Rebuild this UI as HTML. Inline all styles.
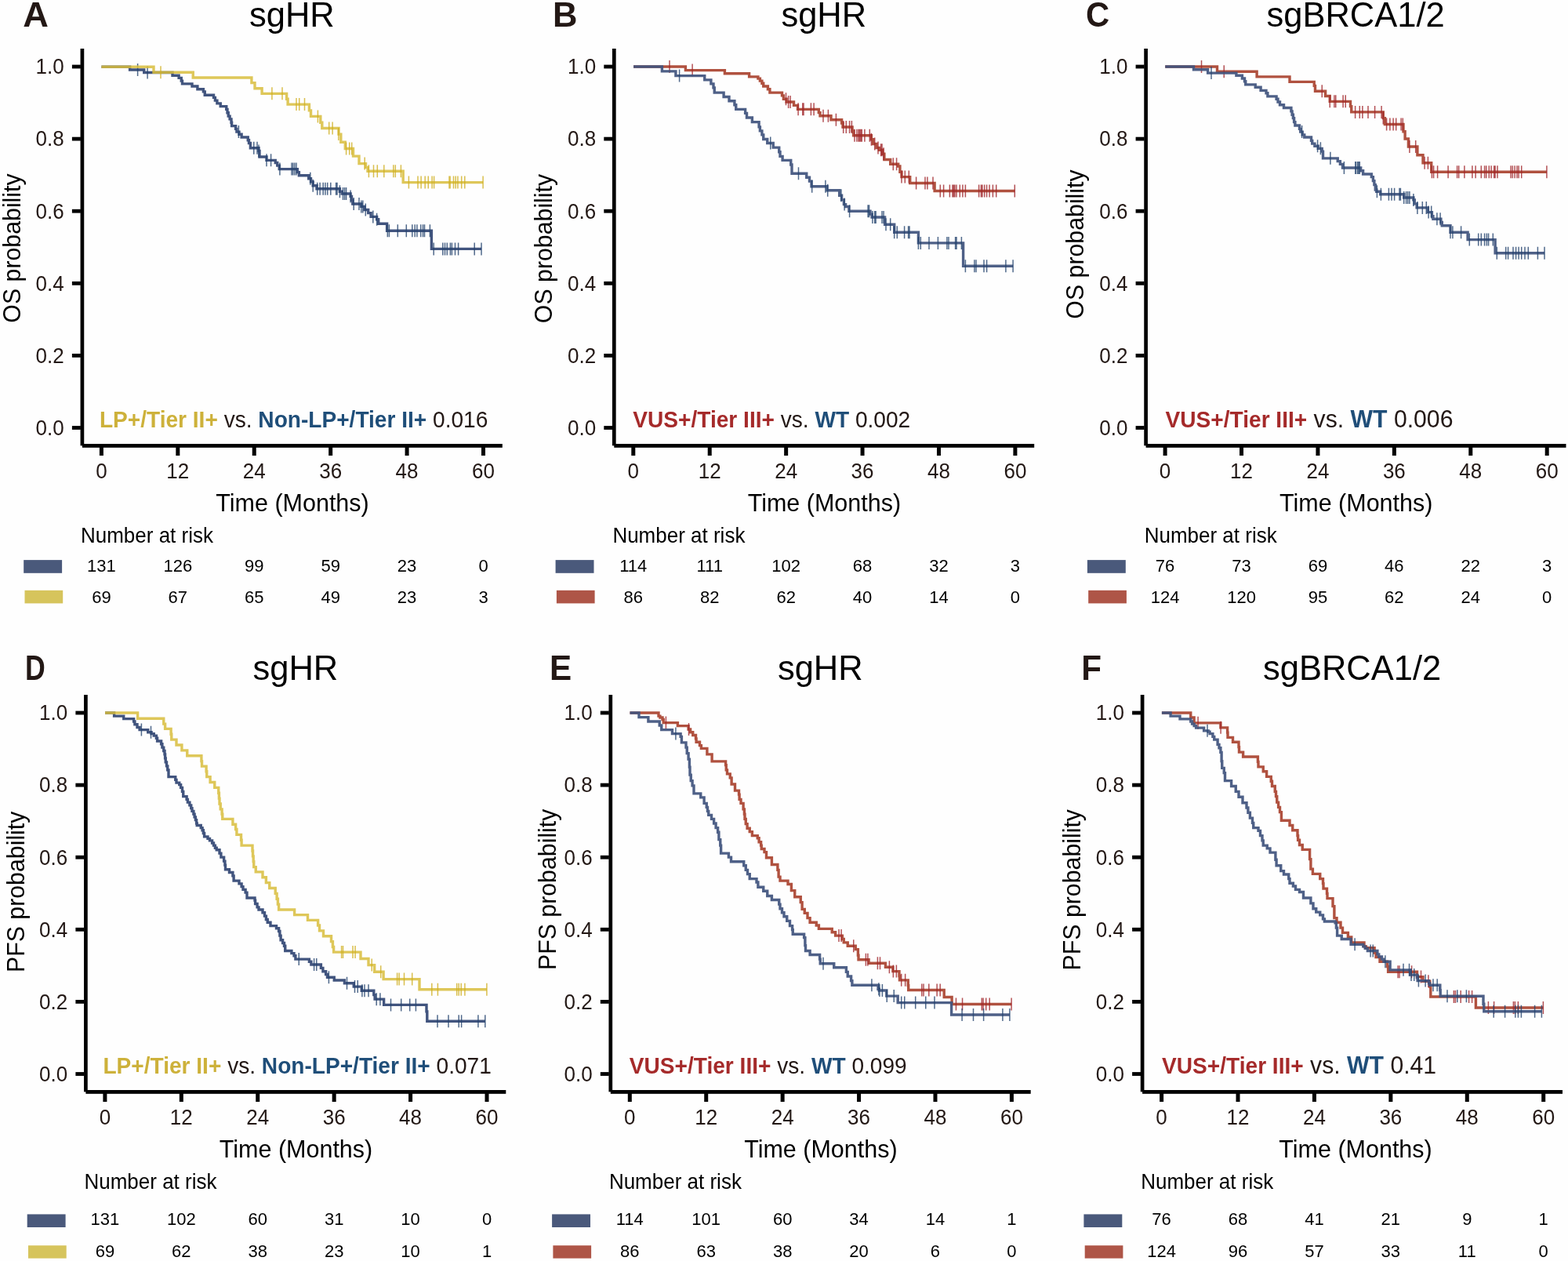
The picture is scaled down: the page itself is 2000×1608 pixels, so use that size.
<!DOCTYPE html>
<html><head><meta charset="utf-8"><title>Kaplan-Meier curves</title>
<style>html,body{margin:0;padding:0;background:#fff;}svg{display:block;}</style></head>
<body><svg width="2000" height="1608" viewBox="0 0 2000 1608" font-family="'Liberation Sans', sans-serif">
<rect width="2000" height="1608" fill="#fefefe"/>
<g>
<rect x="102.55" y="62" width="4.7" height="506.3" fill="#000"/>
<rect x="104.9" y="566" width="535.9" height="4.8" fill="#000"/>
<rect x="91.9" y="82.6" width="11" height="4.8" fill="#000"/>
<text transform="translate(81.7 94.3) scale(1 1.04)" font-size="26" text-anchor="end" fill="#231815">1.0</text>
<rect x="91.9" y="174.7" width="11" height="4.8" fill="#000"/>
<text transform="translate(81.7 186.4) scale(1 1.04)" font-size="26" text-anchor="end" fill="#231815">0.8</text>
<rect x="91.9" y="266.8" width="11" height="4.8" fill="#000"/>
<text transform="translate(81.7 278.5) scale(1 1.04)" font-size="26" text-anchor="end" fill="#231815">0.6</text>
<rect x="91.9" y="358.9" width="11" height="4.8" fill="#000"/>
<text transform="translate(81.7 370.6) scale(1 1.04)" font-size="26" text-anchor="end" fill="#231815">0.4</text>
<rect x="91.9" y="451" width="11" height="4.8" fill="#000"/>
<text transform="translate(81.7 462.7) scale(1 1.04)" font-size="26" text-anchor="end" fill="#231815">0.2</text>
<rect x="91.9" y="543.1" width="11" height="4.8" fill="#000"/>
<text transform="translate(81.7 554.8) scale(1 1.04)" font-size="26" text-anchor="end" fill="#231815">0.0</text>
<rect x="126.9" y="570" width="5" height="11" fill="#000"/>
<text transform="translate(129.4 610) scale(1 1.04)" font-size="26" text-anchor="middle" fill="#231815">0</text>
<rect x="224.32" y="570" width="5" height="11" fill="#000"/>
<text transform="translate(226.82 610) scale(1 1.04)" font-size="26" text-anchor="middle" fill="#231815">12</text>
<rect x="321.74" y="570" width="5" height="11" fill="#000"/>
<text transform="translate(324.24 610) scale(1 1.04)" font-size="26" text-anchor="middle" fill="#231815">24</text>
<rect x="419.16" y="570" width="5" height="11" fill="#000"/>
<text transform="translate(421.66 610) scale(1 1.04)" font-size="26" text-anchor="middle" fill="#231815">36</text>
<rect x="516.58" y="570" width="5" height="11" fill="#000"/>
<text transform="translate(519.08 610) scale(1 1.04)" font-size="26" text-anchor="middle" fill="#231815">48</text>
<rect x="614" y="570" width="5" height="11" fill="#000"/>
<text transform="translate(616.5 610) scale(1 1.04)" font-size="26" text-anchor="middle" fill="#231815">60</text>
<text transform="translate(373 652) scale(1 1.04)" font-size="30.5" text-anchor="middle" fill="#000">Time (Months)</text>
<text transform="translate(25.5 316.5) rotate(-90) scale(1 1.04)" font-size="30.3" text-anchor="middle" fill="#000">OS probability</text>
<text transform="translate(372.4 33.6) scale(1 1.04)" font-size="43.5" text-anchor="middle" fill="#000">sgHR</text>
<text transform="translate(29.3 33.6) scale(1.04 1.04)" font-size="43.5" font-weight="bold" fill="#231815">A</text>
<text transform="translate(126.9 544.8) scale(1 1.04)" font-size="28.1"><tspan fill="#CDB13A" font-weight="bold">LP+/Tier&#160;II+</tspan><tspan fill="#231815">&#160;vs.&#160;</tspan><tspan fill="#1F4E79" font-weight="bold">Non-LP+/Tier&#160;II+</tspan><tspan fill="#231815">&#160;0.016</tspan></text>
<text transform="translate(103 692) scale(1 1.04)" font-size="26" fill="#000">Number at risk</text>
<text transform="translate(129.4 728.5) scale(1 1.04)" font-size="22" text-anchor="middle" fill="#000">131</text>
<text transform="translate(129.4 769.2) scale(1 1.04)" font-size="22" text-anchor="middle" fill="#000">69</text>
<text transform="translate(226.82 728.5) scale(1 1.04)" font-size="22" text-anchor="middle" fill="#000">126</text>
<text transform="translate(226.82 769.2) scale(1 1.04)" font-size="22" text-anchor="middle" fill="#000">67</text>
<text transform="translate(324.24 728.5) scale(1 1.04)" font-size="22" text-anchor="middle" fill="#000">99</text>
<text transform="translate(324.24 769.2) scale(1 1.04)" font-size="22" text-anchor="middle" fill="#000">65</text>
<text transform="translate(421.66 728.5) scale(1 1.04)" font-size="22" text-anchor="middle" fill="#000">59</text>
<text transform="translate(421.66 769.2) scale(1 1.04)" font-size="22" text-anchor="middle" fill="#000">49</text>
<text transform="translate(519.08 728.5) scale(1 1.04)" font-size="22" text-anchor="middle" fill="#000">23</text>
<text transform="translate(519.08 769.2) scale(1 1.04)" font-size="22" text-anchor="middle" fill="#000">23</text>
<text transform="translate(616.5 728.5) scale(1 1.04)" font-size="22" text-anchor="middle" fill="#000">0</text>
<text transform="translate(616.5 769.2) scale(1 1.04)" font-size="22" text-anchor="middle" fill="#000">3</text>
<rect x="30.2" y="714.1" width="48.9" height="16.7" fill="#4A597B"/>
<rect x="31.5" y="752.8" width="48.7" height="16.6" fill="#D6C45C"/>
<path d="M129.4 85.25H165.6V89H183.75V92.5H220V96.2H228.1V99.35H231.25V103.1H232.5V106.85H245V110H251.9V113.7H259.4V116.85H261.25V121.2H272.5V124.35H274.4V128.1H276.9V131.85H281.25V135.6H288.75V139.35H290V143.7H291.25V148.1H293.1V151.85H295V156.2H295.6V160.6H300.6V164.35H301.9V168.1H305V171.2H308.1V175H316.25V178.7H317.5V182.5H319.4V188.7H330V192.5H331V200H340V204.35H351.25V207.5H353.75V211.1H356.25V215.6H379.4V219.6H381.4V223.7H393.7V227.8H396.5V231.9H399.2V236.7H404V240.8H433.4V244.2H436.2V247H447.1V250.4H448.5V255.2H449.8V260H460.8V263.4H464.9V267.5H469.7V271.6H473.1V276.4H480.6V279.8H482.7V285.3H493.6V294.2H550.4V317.4H614" fill="none" stroke="#41547E" stroke-width="3.4" stroke-opacity="1.0"/>
<path d="M175.6 81v16M188.1 84.5v16M304.4 160.1v16M323.75 180.7v16M328 180.7v16M330 184.5v16M340 196.35v16M345.6 196.35v16M356.9 207.6v16M372 207.6v16M373.75 207.6v16M375.9 207.6v16M378 207.6v16M395.8 219.8v16M399.2 228.7v16M404.7 232.8v16M408.1 232.8v16M412.2 232.8v16M414.9 232.8v16M417.7 232.8v16M421.8 232.8v16M428.6 232.8v16M430 232.8v16M433.4 236.2v16M437.5 239v16M439.6 239v16M441.6 239v16M447.1 242.4v16M451.2 252v16M458 252v16M460.8 255.4v16M462.8 255.4v16M466.3 259.5v16M475.8 268.4v16M480.6 271.8v16M494.3 286.2v16M496.4 286.2v16M507.3 286.2v16M518.3 286.2v16M525.8 286.2v16M529.2 286.2v16M531.9 286.2v16M536.7 286.2v16M539.5 286.2v16M541.5 286.2v16M548.4 286.2v16M553.2 309.4v16M564.8 309.4v16M567.5 309.4v16M570.3 309.4v16M574.4 309.4v16M576.4 309.4v16M580.5 309.4v16M584.6 309.4v16M605.2 309.4v16M614 309.4v16" fill="none" stroke="#24436E" stroke-width="1.5" stroke-opacity="0.8"/>
<path d="M129.4 85.25H196V92.2H246.25V99H320.9V105.6H325V112.7H334.1V119.35H365.6V126.2H367.1V133.1H394.4V140.9H396.5V148.4H408.8V156.2H410.8V163.5H432V171.1H434.8V181.3H440.3V189.5H450.5V199.1H458V208.6H466.5V213.4H469V218.2H514.2V232.6H616.1" fill="none" stroke="#D8BD3C" stroke-width="3.4" stroke-opacity="0.85"/>
<path d="M205 84.2v16M346.9 111.35v16M360 111.35v16M378 125.1v16M381.7 125.1v16M388.5 125.1v16M405.4 140.4v16M419.7 155.5v16M424.1 155.5v16M431.8 163.1v16M441.6 181.5v16M445.7 181.5v16M448.7 181.5v16M465.2 200.6v16M470.4 210.2v16M476.5 210.2v16M481.3 210.2v16M489.8 210.2v16M501.8 210.2v16M504.3 210.2v16M511.4 210.2v16M521.4 224.6v16M533 224.6v16M537.1 224.6v16M542.2 224.6v16M546.3 224.6v16M551.1 224.6v16M553.6 224.6v16M573 224.6v16M574.1 224.6v16M578.5 224.6v16M581.2 224.6v16M583.9 224.6v16M588.7 224.6v16M592.8 224.6v16M616.1 224.6v16" fill="none" stroke="#CFAF22" stroke-width="1.5" stroke-opacity="0.8"/>
</g>
<g>
<rect x="780.95" y="62" width="4.7" height="506.3" fill="#000"/>
<rect x="783.3" y="566" width="535.9" height="4.8" fill="#000"/>
<rect x="770.3" y="82.6" width="11" height="4.8" fill="#000"/>
<text transform="translate(760.1 94.3) scale(1 1.04)" font-size="26" text-anchor="end" fill="#231815">1.0</text>
<rect x="770.3" y="174.7" width="11" height="4.8" fill="#000"/>
<text transform="translate(760.1 186.4) scale(1 1.04)" font-size="26" text-anchor="end" fill="#231815">0.8</text>
<rect x="770.3" y="266.8" width="11" height="4.8" fill="#000"/>
<text transform="translate(760.1 278.5) scale(1 1.04)" font-size="26" text-anchor="end" fill="#231815">0.6</text>
<rect x="770.3" y="358.9" width="11" height="4.8" fill="#000"/>
<text transform="translate(760.1 370.6) scale(1 1.04)" font-size="26" text-anchor="end" fill="#231815">0.4</text>
<rect x="770.3" y="451" width="11" height="4.8" fill="#000"/>
<text transform="translate(760.1 462.7) scale(1 1.04)" font-size="26" text-anchor="end" fill="#231815">0.2</text>
<rect x="770.3" y="543.1" width="11" height="4.8" fill="#000"/>
<text transform="translate(760.1 554.8) scale(1 1.04)" font-size="26" text-anchor="end" fill="#231815">0.0</text>
<rect x="805.3" y="570" width="5" height="11" fill="#000"/>
<text transform="translate(807.8 610) scale(1 1.04)" font-size="26" text-anchor="middle" fill="#231815">0</text>
<rect x="902.72" y="570" width="5" height="11" fill="#000"/>
<text transform="translate(905.22 610) scale(1 1.04)" font-size="26" text-anchor="middle" fill="#231815">12</text>
<rect x="1000.14" y="570" width="5" height="11" fill="#000"/>
<text transform="translate(1002.64 610) scale(1 1.04)" font-size="26" text-anchor="middle" fill="#231815">24</text>
<rect x="1097.56" y="570" width="5" height="11" fill="#000"/>
<text transform="translate(1100.06 610) scale(1 1.04)" font-size="26" text-anchor="middle" fill="#231815">36</text>
<rect x="1194.98" y="570" width="5" height="11" fill="#000"/>
<text transform="translate(1197.48 610) scale(1 1.04)" font-size="26" text-anchor="middle" fill="#231815">48</text>
<rect x="1292.4" y="570" width="5" height="11" fill="#000"/>
<text transform="translate(1294.9 610) scale(1 1.04)" font-size="26" text-anchor="middle" fill="#231815">60</text>
<text transform="translate(1051.4 652) scale(1 1.04)" font-size="30.5" text-anchor="middle" fill="#000">Time (Months)</text>
<text transform="translate(703.5 317) rotate(-90) scale(1 1.04)" font-size="30.3" text-anchor="middle" fill="#000">OS probability</text>
<text transform="translate(1050.8 33.6) scale(1 1.04)" font-size="43.5" text-anchor="middle" fill="#000">sgHR</text>
<text transform="translate(705 33.6) scale(1 1.04)" font-size="43.5" font-weight="bold" fill="#231815">B</text>
<text transform="translate(807.3 544.8) scale(1 1.04)" font-size="28.1"><tspan fill="#A52A2A" font-weight="bold">VUS+/Tier&#160;III+</tspan><tspan fill="#231815">&#160;vs.&#160;</tspan><tspan fill="#1F4E79" font-weight="bold">WT</tspan><tspan fill="#231815">&#160;0.002</tspan></text>
<text transform="translate(781.4 692) scale(1 1.04)" font-size="26" fill="#000">Number at risk</text>
<text transform="translate(807.8 728.5) scale(1 1.04)" font-size="22" text-anchor="middle" fill="#000">114</text>
<text transform="translate(807.8 769.2) scale(1 1.04)" font-size="22" text-anchor="middle" fill="#000">86</text>
<text transform="translate(905.22 728.5) scale(1 1.04)" font-size="22" text-anchor="middle" fill="#000">111</text>
<text transform="translate(905.22 769.2) scale(1 1.04)" font-size="22" text-anchor="middle" fill="#000">82</text>
<text transform="translate(1002.64 728.5) scale(1 1.04)" font-size="22" text-anchor="middle" fill="#000">102</text>
<text transform="translate(1002.64 769.2) scale(1 1.04)" font-size="22" text-anchor="middle" fill="#000">62</text>
<text transform="translate(1100.06 728.5) scale(1 1.04)" font-size="22" text-anchor="middle" fill="#000">68</text>
<text transform="translate(1100.06 769.2) scale(1 1.04)" font-size="22" text-anchor="middle" fill="#000">40</text>
<text transform="translate(1197.48 728.5) scale(1 1.04)" font-size="22" text-anchor="middle" fill="#000">32</text>
<text transform="translate(1197.48 769.2) scale(1 1.04)" font-size="22" text-anchor="middle" fill="#000">14</text>
<text transform="translate(1294.9 728.5) scale(1 1.04)" font-size="22" text-anchor="middle" fill="#000">3</text>
<text transform="translate(1294.9 769.2) scale(1 1.04)" font-size="22" text-anchor="middle" fill="#000">0</text>
<rect x="708.6" y="714.1" width="48.9" height="16.7" fill="#4A597B"/>
<rect x="709.9" y="752.8" width="48.7" height="16.6" fill="#AE5547"/>
<path d="M808.1 85H874.4V89.6H924.4V93.7H955.6V97.85H966.9V100.1H969.4V103.1H971.9V106.2H973.75V110H979.4V113.7H981.9V118.1H997.5V121.85H999.4V126.2H1003.1V130H1012.5V134.35H1017.5V139.35H1044.3V143.6H1046V147.7H1060V152.7H1073.6V157H1075V162H1087.1V167H1088.6V172.7H1111.4V177.7H1113.6V183.5H1117.9V188.5H1121.4V191.3H1125.7V196.3H1127.9V203.5H1135.7V209.2H1145.7V212H1147.9V219.2H1150V225.6H1160.7V233.5H1192.1V243.5H1294.3" fill="none" stroke="#B0513F" stroke-width="3.4" stroke-opacity="1.0"/>
<path d="M854 77v16M883.1 81.6v16M1002.5 118.2v16M1005.6 122v16M1008.1 122v16M1018.1 131.35v16M1023.75 131.35v16M1025 131.35v16M1034.4 131.35v16M1038.1 131.35v16M1050 139.7v16M1056.4 139.7v16M1066.4 144.7v16M1075.7 154v16M1079.3 154v16M1083.6 154v16M1086.4 154v16M1090 164.7v16M1092.9 164.7v16M1095 164.7v16M1096.4 164.7v16M1097.9 164.7v16M1099.3 164.7v16M1102.9 164.7v16M1109.3 164.7v16M1111.4 169.7v16M1115.7 175.5v16M1120 180.5v16M1123.6 183.3v16M1125 183.3v16M1127.1 188.3v16M1139.3 201.2v16M1143.6 201.2v16M1150 217.6v16M1154.3 217.6v16M1159.3 217.6v16M1168.6 225.5v16M1180 225.5v16M1182.9 225.5v16M1190 225.5v16M1199.3 235.5v16M1203.6 235.5v16M1211.4 235.5v16M1215 235.5v16M1216.4 235.5v16M1217.9 235.5v16M1220 235.5v16M1224.3 235.5v16M1227.9 235.5v16M1231.4 235.5v16M1248.6 235.5v16M1251.4 235.5v16M1252.9 235.5v16M1255.7 235.5v16M1258.6 235.5v16M1262.1 235.5v16M1266.4 235.5v16M1270.7 235.5v16M1294.3 235.5v16" fill="none" stroke="#A0262A" stroke-width="1.5" stroke-opacity="0.8"/>
<path d="M808.1 85H844.4V90.85H861.9V96.6H898.75V101.85H906.9V106.85H910V111.85H911.25V118.1H923.1V123.5H930V128.7H936.9V133.7H938.75V139.35H950.6V144.35H952.5V150H959.4V155.6H968.1V161.85H969.4V166.85H971.9V171.85H973.75V177.5H978.75V182.5H986.25V188.1H993.75V193.7H995V199.35H998.1V204.35H1008.75V210H1010V221.2H1028.75V226.2H1032.5V231.1H1035V237.7H1055V242.7H1070.7V249.2H1073.6V254.9H1076.4V260.6H1078.6V263.5H1082.9V269.2H1110V273.1H1112.1V277H1128.6V286.3H1140.7V296.3H1171.4V309.9H1228.6V339.2H1292.1" fill="none" stroke="#41547E" stroke-width="3.4" stroke-opacity="0.93"/>
<path d="M866.6 88.6v16M982.75 174.5v16M1018.5 213.2v16M1035.7 229.7v16M1052.9 229.7v16M1055.7 234.7v16M1072.9 241.2v16M1077.1 252.6v16M1083.6 261.2v16M1107.1 261.2v16M1108.6 261.2v16M1112.9 269v16M1115.7 269v16M1117.1 269v16M1125 269v16M1127.1 269v16M1130 278.3v16M1135.7 278.3v16M1140.7 288.3v16M1144.3 288.3v16M1153.6 288.3v16M1158.6 288.3v16M1160 288.3v16M1171.4 301.9v16M1174.3 301.9v16M1185 301.9v16M1196.4 301.9v16M1207.9 301.9v16M1210 301.9v16M1218.6 301.9v16M1220 301.9v16M1226.4 301.9v16M1231.4 331.2v16M1242.9 331.2v16M1245 331.2v16M1255 331.2v16M1258.6 331.2v16M1282.9 331.2v16M1292.1 331.2v16" fill="none" stroke="#24436E" stroke-width="1.5" stroke-opacity="0.8"/>
</g>
<g>
<rect x="1459.25" y="62" width="4.7" height="506.3" fill="#000"/>
<rect x="1461.6" y="566" width="535.9" height="4.8" fill="#000"/>
<rect x="1448.6" y="82.6" width="11" height="4.8" fill="#000"/>
<text transform="translate(1438.4 94.3) scale(1 1.04)" font-size="26" text-anchor="end" fill="#231815">1.0</text>
<rect x="1448.6" y="174.7" width="11" height="4.8" fill="#000"/>
<text transform="translate(1438.4 186.4) scale(1 1.04)" font-size="26" text-anchor="end" fill="#231815">0.8</text>
<rect x="1448.6" y="266.8" width="11" height="4.8" fill="#000"/>
<text transform="translate(1438.4 278.5) scale(1 1.04)" font-size="26" text-anchor="end" fill="#231815">0.6</text>
<rect x="1448.6" y="358.9" width="11" height="4.8" fill="#000"/>
<text transform="translate(1438.4 370.6) scale(1 1.04)" font-size="26" text-anchor="end" fill="#231815">0.4</text>
<rect x="1448.6" y="451" width="11" height="4.8" fill="#000"/>
<text transform="translate(1438.4 462.7) scale(1 1.04)" font-size="26" text-anchor="end" fill="#231815">0.2</text>
<rect x="1448.6" y="543.1" width="11" height="4.8" fill="#000"/>
<text transform="translate(1438.4 554.8) scale(1 1.04)" font-size="26" text-anchor="end" fill="#231815">0.0</text>
<rect x="1483.6" y="570" width="5" height="11" fill="#000"/>
<text transform="translate(1486.1 610) scale(1 1.04)" font-size="26" text-anchor="middle" fill="#231815">0</text>
<rect x="1581.02" y="570" width="5" height="11" fill="#000"/>
<text transform="translate(1583.52 610) scale(1 1.04)" font-size="26" text-anchor="middle" fill="#231815">12</text>
<rect x="1678.44" y="570" width="5" height="11" fill="#000"/>
<text transform="translate(1680.94 610) scale(1 1.04)" font-size="26" text-anchor="middle" fill="#231815">24</text>
<rect x="1775.86" y="570" width="5" height="11" fill="#000"/>
<text transform="translate(1778.36 610) scale(1 1.04)" font-size="26" text-anchor="middle" fill="#231815">36</text>
<rect x="1873.28" y="570" width="5" height="11" fill="#000"/>
<text transform="translate(1875.78 610) scale(1 1.04)" font-size="26" text-anchor="middle" fill="#231815">48</text>
<rect x="1970.7" y="570" width="5" height="11" fill="#000"/>
<text transform="translate(1973.2 610) scale(1 1.04)" font-size="26" text-anchor="middle" fill="#231815">60</text>
<text transform="translate(1729.7 652) scale(1 1.04)" font-size="30.5" text-anchor="middle" fill="#000">Time (Months)</text>
<text transform="translate(1382.1 311.5) rotate(-90) scale(1 1.04)" font-size="30.3" text-anchor="middle" fill="#000">OS probability</text>
<text transform="translate(1729.1 33.6) scale(1 1.04)" font-size="43.5" text-anchor="middle" fill="#000">sgBRCA1/2</text>
<text transform="translate(1385.1 33.6) scale(0.96 1.04)" font-size="43.5" font-weight="bold" fill="#231815">C</text>
<text transform="translate(1486.6 544.8) scale(1 1.04)" font-size="28.1"><tspan fill="#A52A2A" font-weight="bold">VUS+/Tier&#160;III+</tspan><tspan fill="#231815" font-size="30.2">&#160;vs.&#160;</tspan><tspan fill="#1F4E79" font-weight="bold" font-size="30.2">WT</tspan><tspan fill="#231815" font-size="30.2">&#160;0.006</tspan></text>
<text transform="translate(1459.7 692) scale(1 1.04)" font-size="26" fill="#000">Number at risk</text>
<text transform="translate(1486.1 728.5) scale(1 1.04)" font-size="22" text-anchor="middle" fill="#000">76</text>
<text transform="translate(1486.1 769.2) scale(1 1.04)" font-size="22" text-anchor="middle" fill="#000">124</text>
<text transform="translate(1583.52 728.5) scale(1 1.04)" font-size="22" text-anchor="middle" fill="#000">73</text>
<text transform="translate(1583.52 769.2) scale(1 1.04)" font-size="22" text-anchor="middle" fill="#000">120</text>
<text transform="translate(1680.94 728.5) scale(1 1.04)" font-size="22" text-anchor="middle" fill="#000">69</text>
<text transform="translate(1680.94 769.2) scale(1 1.04)" font-size="22" text-anchor="middle" fill="#000">95</text>
<text transform="translate(1778.36 728.5) scale(1 1.04)" font-size="22" text-anchor="middle" fill="#000">46</text>
<text transform="translate(1778.36 769.2) scale(1 1.04)" font-size="22" text-anchor="middle" fill="#000">62</text>
<text transform="translate(1875.78 728.5) scale(1 1.04)" font-size="22" text-anchor="middle" fill="#000">22</text>
<text transform="translate(1875.78 769.2) scale(1 1.04)" font-size="22" text-anchor="middle" fill="#000">24</text>
<text transform="translate(1973.2 728.5) scale(1 1.04)" font-size="22" text-anchor="middle" fill="#000">3</text>
<text transform="translate(1973.2 769.2) scale(1 1.04)" font-size="22" text-anchor="middle" fill="#000">0</text>
<rect x="1386.9" y="714.1" width="48.9" height="16.7" fill="#4A597B"/>
<rect x="1388.2" y="752.8" width="48.7" height="16.6" fill="#AE5547"/>
<path d="M1486.25 85H1552.5V91.2H1603.1V97.85H1645V104.35H1676.25V109.35H1677.5V116.2H1690.6V122.5H1696.25V129.35H1722.5V135.6H1723.75V142.9H1764.3V150.6H1766.4V158.5H1790V167.7H1792.1V177H1796.4V187H1807.9V197.7H1815V207.7H1825.7V219.2H1972.9" fill="none" stroke="#B0513F" stroke-width="3.4" stroke-opacity="1.0"/>
<path d="M1532.5 77v16M1561.25 83.2v16M1686.25 108.2v16M1696.25 121.35v16M1701.9 121.35v16M1703.75 121.35v16M1713.1 121.35v16M1716.25 121.35v16M1728.6 134.9v16M1734.3 134.9v16M1737.9 134.9v16M1745 134.9v16M1753.6 134.9v16M1762.1 134.9v16M1764.3 142.6v16M1768.6 150.5v16M1772.9 150.5v16M1777.1 150.5v16M1780.7 150.5v16M1787.1 150.5v16M1789.3 150.5v16M1797.9 179v16M1805.7 179v16M1817.1 199.7v16M1821.4 199.7v16M1826.4 211.2v16M1828.6 211.2v16M1833.6 211.2v16M1847.1 211.2v16M1858.6 211.2v16M1860.7 211.2v16M1867.9 211.2v16M1877.9 211.2v16M1882.1 211.2v16M1889.3 211.2v16M1893.6 211.2v16M1895.7 211.2v16M1899.3 211.2v16M1902.1 211.2v16M1905.7 211.2v16M1907.1 211.2v16M1910 211.2v16M1927.1 211.2v16M1929.3 211.2v16M1932.1 211.2v16M1935 211.2v16M1937.1 211.2v16M1940.7 211.2v16M1972.9 211.2v16" fill="none" stroke="#A0262A" stroke-width="1.5" stroke-opacity="0.8"/>
<path d="M1486.25 85H1522.5V88.7H1540.6V93.1H1576.9V96.2H1584.4V100H1587.5V103.7H1588.75V107.85H1601.25V111.2H1608.1V115.35H1615V118.7H1616.9V122.85H1628.1V126.2H1630V130H1632.5V133.7H1637.5V137.5H1646.9V141.85H1648.1V146.2H1649.4V150.6H1650.6V155.6H1651.9V160H1657.5V164.35H1658.75V168.1H1661.25V171.85H1663.75V175H1672.5V179.35H1673.75V183.1H1676.9V186.2H1681.25V189.35H1686.25V193.1H1687.5V201.85H1706.25V205.6H1709.4V209.35H1712.5V214H1735.7V217.7H1738.6V222H1749.3V225.6H1751.4V230.6H1752.9V235.6H1754.3V242H1755.7V244.2H1760.7V247.7H1790.7V252H1802.9V254.9H1804.3V259.9H1807.1V264.9H1821.4V270.6H1826.4V275.6H1827.9V279.2H1837.9V283.5H1839.3V287.7H1850V296.3H1872.1V305.6H1907.1V322.7H1970" fill="none" stroke="#41547E" stroke-width="3.4" stroke-opacity="0.93"/>
<path d="M1545 85.1v16M1660.6 160.1v16M1680.6 178.2v16M1684.4 181.35v16M1696.9 193.85v16M1714.4 206v16M1728.75 206v16M1729.3 206v16M1731.4 206v16M1732.9 206v16M1734.3 206v16M1756.4 236.2v16M1761.4 239.7v16M1771.4 239.7v16M1775 239.7v16M1778.6 239.7v16M1785 239.7v16M1786.4 239.7v16M1790.7 244v16M1793.6 244v16M1795.7 244v16M1797.9 244v16M1802.9 246.9v16M1807.9 256.9v16M1814.3 256.9v16M1819.3 256.9v16M1822.1 262.6v16M1825.7 262.6v16M1832.9 271.2v16M1837.1 271.2v16M1850 288.3v16M1852.9 288.3v16M1863.6 288.3v16M1874.3 297.6v16M1885.7 297.6v16M1889.3 297.6v16M1893.6 297.6v16M1896.4 297.6v16M1898.6 297.6v16M1904.3 297.6v16M1909.3 314.7v16M1920.7 314.7v16M1923.6 314.7v16M1930 314.7v16M1933.6 314.7v16M1937.1 314.7v16M1940.7 314.7v16M1945 314.7v16M1949.3 314.7v16M1961.4 314.7v16M1970 314.7v16" fill="none" stroke="#24436E" stroke-width="1.5" stroke-opacity="0.8"/>
</g>
<g>
<rect x="107.05" y="886" width="4.7" height="506.3" fill="#000"/>
<rect x="109.4" y="1390" width="535.9" height="4.8" fill="#000"/>
<rect x="96.4" y="906.6" width="11" height="4.8" fill="#000"/>
<text transform="translate(86.2 918.3) scale(1 1.04)" font-size="26" text-anchor="end" fill="#231815">1.0</text>
<rect x="96.4" y="998.7" width="11" height="4.8" fill="#000"/>
<text transform="translate(86.2 1010.4) scale(1 1.04)" font-size="26" text-anchor="end" fill="#231815">0.8</text>
<rect x="96.4" y="1090.8" width="11" height="4.8" fill="#000"/>
<text transform="translate(86.2 1102.5) scale(1 1.04)" font-size="26" text-anchor="end" fill="#231815">0.6</text>
<rect x="96.4" y="1182.9" width="11" height="4.8" fill="#000"/>
<text transform="translate(86.2 1194.6) scale(1 1.04)" font-size="26" text-anchor="end" fill="#231815">0.4</text>
<rect x="96.4" y="1275" width="11" height="4.8" fill="#000"/>
<text transform="translate(86.2 1286.7) scale(1 1.04)" font-size="26" text-anchor="end" fill="#231815">0.2</text>
<rect x="96.4" y="1367.1" width="11" height="4.8" fill="#000"/>
<text transform="translate(86.2 1378.8) scale(1 1.04)" font-size="26" text-anchor="end" fill="#231815">0.0</text>
<rect x="131.4" y="1394" width="5" height="11" fill="#000"/>
<text transform="translate(133.9 1434) scale(1 1.04)" font-size="26" text-anchor="middle" fill="#231815">0</text>
<rect x="228.82" y="1394" width="5" height="11" fill="#000"/>
<text transform="translate(231.32 1434) scale(1 1.04)" font-size="26" text-anchor="middle" fill="#231815">12</text>
<rect x="326.24" y="1394" width="5" height="11" fill="#000"/>
<text transform="translate(328.74 1434) scale(1 1.04)" font-size="26" text-anchor="middle" fill="#231815">24</text>
<rect x="423.66" y="1394" width="5" height="11" fill="#000"/>
<text transform="translate(426.16 1434) scale(1 1.04)" font-size="26" text-anchor="middle" fill="#231815">36</text>
<rect x="521.08" y="1394" width="5" height="11" fill="#000"/>
<text transform="translate(523.58 1434) scale(1 1.04)" font-size="26" text-anchor="middle" fill="#231815">48</text>
<rect x="618.5" y="1394" width="5" height="11" fill="#000"/>
<text transform="translate(621 1434) scale(1 1.04)" font-size="26" text-anchor="middle" fill="#231815">60</text>
<text transform="translate(377.5 1476) scale(1 1.04)" font-size="30.5" text-anchor="middle" fill="#000">Time (Months)</text>
<text transform="translate(30.7 1137.3) rotate(-90) scale(1 1.04)" font-size="30.3" text-anchor="middle" fill="#000">PFS probability</text>
<text transform="translate(376.9 867.4) scale(1 1.04)" font-size="43.5" text-anchor="middle" fill="#000">sgHR</text>
<text transform="translate(32 867.4) scale(0.82 1.04)" font-size="43.5" font-weight="bold" fill="#231815">D</text>
<text transform="translate(131.4 1368.8) scale(1 1.04)" font-size="28.1"><tspan fill="#CDB13A" font-weight="bold">LP+/Tier&#160;II+</tspan><tspan fill="#231815">&#160;vs.&#160;</tspan><tspan fill="#1F4E79" font-weight="bold">Non-LP+/Tier&#160;II+</tspan><tspan fill="#231815">&#160;0.071</tspan></text>
<text transform="translate(107.5 1516) scale(1 1.04)" font-size="26" fill="#000">Number at risk</text>
<text transform="translate(133.9 1561.8) scale(1 1.04)" font-size="22" text-anchor="middle" fill="#000">131</text>
<text transform="translate(133.9 1602.5) scale(1 1.04)" font-size="22" text-anchor="middle" fill="#000">69</text>
<text transform="translate(231.32 1561.8) scale(1 1.04)" font-size="22" text-anchor="middle" fill="#000">102</text>
<text transform="translate(231.32 1602.5) scale(1 1.04)" font-size="22" text-anchor="middle" fill="#000">62</text>
<text transform="translate(328.74 1561.8) scale(1 1.04)" font-size="22" text-anchor="middle" fill="#000">60</text>
<text transform="translate(328.74 1602.5) scale(1 1.04)" font-size="22" text-anchor="middle" fill="#000">38</text>
<text transform="translate(426.16 1561.8) scale(1 1.04)" font-size="22" text-anchor="middle" fill="#000">31</text>
<text transform="translate(426.16 1602.5) scale(1 1.04)" font-size="22" text-anchor="middle" fill="#000">23</text>
<text transform="translate(523.58 1561.8) scale(1 1.04)" font-size="22" text-anchor="middle" fill="#000">10</text>
<text transform="translate(523.58 1602.5) scale(1 1.04)" font-size="22" text-anchor="middle" fill="#000">10</text>
<text transform="translate(621 1561.8) scale(1 1.04)" font-size="22" text-anchor="middle" fill="#000">0</text>
<text transform="translate(621 1602.5) scale(1 1.04)" font-size="22" text-anchor="middle" fill="#000">1</text>
<rect x="34.7" y="1548.4" width="48.9" height="16.6" fill="#4A597B"/>
<rect x="36" y="1588.2" width="48.7" height="16.4" fill="#D6C45C"/>
<path d="M134 909H145.6V913.1H157.75V916.6H170.6V920H171.9V923.7H175V927.5H178.1V930.6H188.75V933.7H193.1V935.6H196.25V938.1H199.4V941.2H200.6V945H205.6V948.7H206.9V953.1H208.75V957.5H210V961.85H210.6V966.85H211.25V971.85H212.5V976.85H213.75V981.85H215V990.6H223.75V994.35H225V998.1H228.75V1000.6H230.6V1004.35H232.5V1009.35H233.75V1015.6H238.1V1019.35H239.4V1023.1H241.9V1026.85H243.75V1030.6H245V1034.35H246.9V1038.1H248.1V1041.85H249.4V1045.6H250.6V1050H251.25V1052.5H256.25V1055.6H258.1V1058.7H259.4V1062.5H260.6V1066.85H265V1069.35H267.5V1071.85H270.6V1075H272.5V1078.1H274.4V1081.2H276.25V1083.7H280V1088.1H281.9V1093.1H285.6V1098.1H286.9V1103.1H287.5V1108.7H292.5V1112.5H296.9V1116.85H298.1V1123.1H305V1126.85H308.1V1130.6H310V1134.35H313.1V1138.1H315V1145H325V1148.1H325.6V1152.5H328.1V1156.85H330V1160H335V1163.7H337.5V1168.1H339.4V1172.5H341.25V1176.2H345V1180.6H352.5V1183.7H355.6V1187.5H356.9V1193.1H358.1V1198.7H360.6V1202.5H362.5V1206.2H363.75V1212.5H371.9V1215.6H375V1218.7H376.9V1223.1H394.4V1226.2H396.9V1230H409.4V1234.35H411.9V1238.7H415.6V1242.5H417.5V1246.2H426.25V1250H439.4V1253.7H451.25V1258.1H461.25V1263.3H476.8V1268.6H478.1V1274.15H489.6V1281.4H544V1289.9H544.8V1302.2H618.8" fill="none" stroke="#41547E" stroke-width="3.4" stroke-opacity="1.0"/>
<path d="M180.4 922.6v16M192.5 925.7v16M381.25 1215.1v16M400.6 1222v16M403.75 1222v16M419.4 1238.2v16M442.5 1245.7v16M452.5 1250.1v16M456.25 1250.1v16M461.9 1255.3v16M465 1255.3v16M470 1255.3v16M480.2 1266.15v16M484.9 1266.15v16M498.5 1273.4v16M511.7 1273.4v16M522.7 1273.4v16M530.4 1273.4v16M558 1294.2v16M572 1294.2v16M585.2 1294.2v16M588.6 1294.2v16M609.9 1294.2v16M618.8 1294.2v16" fill="none" stroke="#24436E" stroke-width="1.5" stroke-opacity="0.8"/>
<path d="M134 909H175.6V916.2H208.75V923.1H210.6V929.35H218.1V936.2H218.75V943.1H225V950H231.9V956.85H238.75V963.7H256.9V970.6H257.5V977.1H263.1V983.7H263.75V990.6H268.1V997.5H273.75V1004.35H278.75V1011.2H279.4V1018.1H280V1025H281.25V1031.85H283.1V1038.1H283.75V1044.35H296.9V1051.2H300.6V1057.5H301.9V1064.35H307.5V1071.2H308.1V1078.1H322V1085H322.5V1091.85H323.2V1098.6H323.75V1105.6H326.25V1111.85H335V1118.7H339.4V1125.6H343.75V1132.5H351.25V1139.35H353.1V1146.2H354.4V1153.1H355.6V1160H375.6V1166.6H392.5V1173.35H405.6V1180H407.5V1186.85H412.5V1193.7H422.5V1200.6H424.4V1207.5H425.6V1214.1H460V1222.5H470V1230.6H477.65V1239.3H489.1V1248.6H535V1261.8H620.9" fill="none" stroke="#D8BD3C" stroke-width="3.4" stroke-opacity="0.85"/>
<path d="M435.6 1206.1v16M437.5 1206.1v16M450 1206.1v16M453.1 1206.1v16M474.25 1222.6v16M485.7 1231.3v16M506.6 1240.6v16M509.1 1240.6v16M515.5 1240.6v16M525.7 1240.6v16M550.8 1253.8v16M558.4 1253.8v16M582.7 1253.8v16M585.2 1253.8v16M588.2 1253.8v16M592.9 1253.8v16M620.9 1253.8v16" fill="none" stroke="#CFAF22" stroke-width="1.5" stroke-opacity="0.8"/>
</g>
<g>
<rect x="776.45" y="886" width="4.7" height="506.3" fill="#000"/>
<rect x="778.8" y="1390" width="535.9" height="4.8" fill="#000"/>
<rect x="765.8" y="906.6" width="11" height="4.8" fill="#000"/>
<text transform="translate(755.6 918.3) scale(1 1.04)" font-size="26" text-anchor="end" fill="#231815">1.0</text>
<rect x="765.8" y="998.7" width="11" height="4.8" fill="#000"/>
<text transform="translate(755.6 1010.4) scale(1 1.04)" font-size="26" text-anchor="end" fill="#231815">0.8</text>
<rect x="765.8" y="1090.8" width="11" height="4.8" fill="#000"/>
<text transform="translate(755.6 1102.5) scale(1 1.04)" font-size="26" text-anchor="end" fill="#231815">0.6</text>
<rect x="765.8" y="1182.9" width="11" height="4.8" fill="#000"/>
<text transform="translate(755.6 1194.6) scale(1 1.04)" font-size="26" text-anchor="end" fill="#231815">0.4</text>
<rect x="765.8" y="1275" width="11" height="4.8" fill="#000"/>
<text transform="translate(755.6 1286.7) scale(1 1.04)" font-size="26" text-anchor="end" fill="#231815">0.2</text>
<rect x="765.8" y="1367.1" width="11" height="4.8" fill="#000"/>
<text transform="translate(755.6 1378.8) scale(1 1.04)" font-size="26" text-anchor="end" fill="#231815">0.0</text>
<rect x="800.8" y="1394" width="5" height="11" fill="#000"/>
<text transform="translate(803.3 1434) scale(1 1.04)" font-size="26" text-anchor="middle" fill="#231815">0</text>
<rect x="898.22" y="1394" width="5" height="11" fill="#000"/>
<text transform="translate(900.72 1434) scale(1 1.04)" font-size="26" text-anchor="middle" fill="#231815">12</text>
<rect x="995.64" y="1394" width="5" height="11" fill="#000"/>
<text transform="translate(998.14 1434) scale(1 1.04)" font-size="26" text-anchor="middle" fill="#231815">24</text>
<rect x="1093.06" y="1394" width="5" height="11" fill="#000"/>
<text transform="translate(1095.56 1434) scale(1 1.04)" font-size="26" text-anchor="middle" fill="#231815">36</text>
<rect x="1190.48" y="1394" width="5" height="11" fill="#000"/>
<text transform="translate(1192.98 1434) scale(1 1.04)" font-size="26" text-anchor="middle" fill="#231815">48</text>
<rect x="1287.9" y="1394" width="5" height="11" fill="#000"/>
<text transform="translate(1290.4 1434) scale(1 1.04)" font-size="26" text-anchor="middle" fill="#231815">60</text>
<text transform="translate(1046.9 1476) scale(1 1.04)" font-size="30.5" text-anchor="middle" fill="#000">Time (Months)</text>
<text transform="translate(708.6 1134.3) rotate(-90) scale(1 1.04)" font-size="30.3" text-anchor="middle" fill="#000">PFS probability</text>
<text transform="translate(1046.3 867.4) scale(1 1.04)" font-size="43.5" text-anchor="middle" fill="#000">sgHR</text>
<text transform="translate(701.1 867.4) scale(0.97 1.04)" font-size="43.5" font-weight="bold" fill="#231815">E</text>
<text transform="translate(802.8 1368.8) scale(1 1.04)" font-size="28.1"><tspan fill="#A52A2A" font-weight="bold">VUS+/Tier&#160;III+</tspan><tspan fill="#231815">&#160;vs.&#160;</tspan><tspan fill="#1F4E79" font-weight="bold">WT</tspan><tspan fill="#231815">&#160;0.099</tspan></text>
<text transform="translate(776.9 1516) scale(1 1.04)" font-size="26" fill="#000">Number at risk</text>
<text transform="translate(803.3 1561.8) scale(1 1.04)" font-size="22" text-anchor="middle" fill="#000">114</text>
<text transform="translate(803.3 1602.5) scale(1 1.04)" font-size="22" text-anchor="middle" fill="#000">86</text>
<text transform="translate(900.72 1561.8) scale(1 1.04)" font-size="22" text-anchor="middle" fill="#000">101</text>
<text transform="translate(900.72 1602.5) scale(1 1.04)" font-size="22" text-anchor="middle" fill="#000">63</text>
<text transform="translate(998.14 1561.8) scale(1 1.04)" font-size="22" text-anchor="middle" fill="#000">60</text>
<text transform="translate(998.14 1602.5) scale(1 1.04)" font-size="22" text-anchor="middle" fill="#000">38</text>
<text transform="translate(1095.56 1561.8) scale(1 1.04)" font-size="22" text-anchor="middle" fill="#000">34</text>
<text transform="translate(1095.56 1602.5) scale(1 1.04)" font-size="22" text-anchor="middle" fill="#000">20</text>
<text transform="translate(1192.98 1561.8) scale(1 1.04)" font-size="22" text-anchor="middle" fill="#000">14</text>
<text transform="translate(1192.98 1602.5) scale(1 1.04)" font-size="22" text-anchor="middle" fill="#000">6</text>
<text transform="translate(1290.4 1561.8) scale(1 1.04)" font-size="22" text-anchor="middle" fill="#000">1</text>
<text transform="translate(1290.4 1602.5) scale(1 1.04)" font-size="22" text-anchor="middle" fill="#000">0</text>
<rect x="704.1" y="1548.4" width="48.9" height="16.6" fill="#4A597B"/>
<rect x="705.4" y="1588.2" width="48.7" height="16.4" fill="#AE5547"/>
<path d="M803.5 909H840V913.1H841.9V915H845V917.5H846.25V921.6H864.4V925.6H878.1V930H880.6V933.7H883.75V937.5H887.5V941.85H888.1V946.2H892.5V950.6H894.4V954.35H901.9V961.85H908.1V970.85H925.6V975.6H926.25V981.85H927.5V986.85H931.25V991.85H933.1V1000H937.5V1008.1H942.5V1013.1H943.1V1019.35H945V1024.35H948.1V1031.85H949.4V1038.1H950V1044.35H951.25V1050.6H953.1V1056.2H956.25V1060.6H959.4V1065.6H966.25V1068.7H968.1V1073.7H970.6V1078.1H971.25V1082.5H975V1086.6H977.5V1093.7H984.4V1102.5H991.9V1109.35H993.1V1118.1H995V1123.1H1005V1127.5H1009.4V1135.6H1013.75V1143.7H1021.25V1150.6H1023.1V1159.35H1026.25V1164.35H1030V1170.6H1033.1V1176.2H1041.25V1180H1044.4V1184.35H1061.25V1188.7H1065.6V1193.1H1074.4V1197.5H1076.25V1201.85H1081.25V1206.2H1091.25V1210.6H1094.4V1218.1H1095V1223.7H1108.1V1228.2H1129.45V1233.2H1138.9V1238.6H1147V1244.45H1147.45V1249.85H1158.25V1256.6H1158.7V1262.45H1204.2V1271.45H1214.1V1280.45H1290.1" fill="none" stroke="#B0513F" stroke-width="3.4" stroke-opacity="1.0"/>
<path d="M849.4 913.6v16M878.5 922v16M1070 1185.1v16M1073.1 1185.1v16M1088.75 1198.2v16M1104.4 1215.7v16M1106.9 1215.7v16M1119.4 1220.2v16M1122.5 1220.2v16M1134.4 1225.2v16M1139.35 1230.6v16M1143.4 1230.6v16M1149.7 1241.85v16M1154.65 1241.85v16M1175.8 1254.45v16M1178.05 1254.45v16M1184.8 1254.45v16M1195.15 1254.45v16M1199.2 1254.45v16M1219.45 1272.45v16M1227.55 1272.45v16M1252.3 1272.45v16M1254.1 1272.45v16M1257.7 1272.45v16M1262.2 1272.45v16M1290.1 1272.45v16" fill="none" stroke="#A0262A" stroke-width="1.5" stroke-opacity="0.8"/>
<path d="M803.5 909H815V914.6H826.9V920H841.25V925H843.75V930.6H857.5V935.6H868.1V939.35H869.4V946.85H875V953.1H876.25V960.6H878.1V968.1H879.4V978.1H880V988.1H881.25V995.6H883.1V1001.85H885V1011.85H893.75V1016.85H898.1V1024.35H901.25V1029.35H902.5V1034.35H903.75V1039.35H907.5V1044.35H910.6V1050H913.1V1055.6H915.6V1061.2H916.9V1070.6H918.75V1078.1H919.6V1088.1H929.4V1093.1H932.5V1098.7H948.75V1103.7H951.25V1109.35H953.5V1114.6H956.25V1120.6H965V1125H966.9V1131.2H973.75V1136.2H978.75V1142.5H984.4V1147.5H993.75V1153.1H995V1158.7H997.5V1163.7H1000V1168.7H1003.75V1174.35H1007.5V1180.6H1010.6V1185.6H1011.25V1191.2H1025.6V1195.6H1026.9V1205.6H1027.5V1212.5H1033.1V1217.5H1045.6V1223.1H1046.25V1228.7H1063.75V1233.7H1079.4V1239.35H1081.25V1245H1085.6V1250.6H1086.9V1256.2H1120V1261.2H1121.25V1263H1130.8V1270.1H1145.2V1278.6H1213.6V1294H1287.9" fill="none" stroke="#41547E" stroke-width="3.4" stroke-opacity="0.93"/>
<path d="M861.9 927.6v16M1050 1220.7v16M1111.9 1248.2v16M1120.9 1253.2v16M1121.9 1255v16M1125.4 1255v16M1131.25 1262.1v16M1140.25 1262.1v16M1149.7 1270.6v16M1153.75 1270.6v16M1167.7 1270.6v16M1180.75 1270.6v16M1192 1270.6v16M1227.1 1286v16M1241.5 1286v16M1254.6 1286v16M1278.9 1286v16M1287.9 1286v16" fill="none" stroke="#24436E" stroke-width="1.5" stroke-opacity="0.8"/>
</g>
<g>
<rect x="1454.75" y="886" width="4.7" height="506.3" fill="#000"/>
<rect x="1457.1" y="1390" width="535.9" height="4.8" fill="#000"/>
<rect x="1444.1" y="906.6" width="11" height="4.8" fill="#000"/>
<text transform="translate(1433.9 918.3) scale(1 1.04)" font-size="26" text-anchor="end" fill="#231815">1.0</text>
<rect x="1444.1" y="998.7" width="11" height="4.8" fill="#000"/>
<text transform="translate(1433.9 1010.4) scale(1 1.04)" font-size="26" text-anchor="end" fill="#231815">0.8</text>
<rect x="1444.1" y="1090.8" width="11" height="4.8" fill="#000"/>
<text transform="translate(1433.9 1102.5) scale(1 1.04)" font-size="26" text-anchor="end" fill="#231815">0.6</text>
<rect x="1444.1" y="1182.9" width="11" height="4.8" fill="#000"/>
<text transform="translate(1433.9 1194.6) scale(1 1.04)" font-size="26" text-anchor="end" fill="#231815">0.4</text>
<rect x="1444.1" y="1275" width="11" height="4.8" fill="#000"/>
<text transform="translate(1433.9 1286.7) scale(1 1.04)" font-size="26" text-anchor="end" fill="#231815">0.2</text>
<rect x="1444.1" y="1367.1" width="11" height="4.8" fill="#000"/>
<text transform="translate(1433.9 1378.8) scale(1 1.04)" font-size="26" text-anchor="end" fill="#231815">0.0</text>
<rect x="1479.1" y="1394" width="5" height="11" fill="#000"/>
<text transform="translate(1481.6 1434) scale(1 1.04)" font-size="26" text-anchor="middle" fill="#231815">0</text>
<rect x="1576.52" y="1394" width="5" height="11" fill="#000"/>
<text transform="translate(1579.02 1434) scale(1 1.04)" font-size="26" text-anchor="middle" fill="#231815">12</text>
<rect x="1673.94" y="1394" width="5" height="11" fill="#000"/>
<text transform="translate(1676.44 1434) scale(1 1.04)" font-size="26" text-anchor="middle" fill="#231815">24</text>
<rect x="1771.36" y="1394" width="5" height="11" fill="#000"/>
<text transform="translate(1773.86 1434) scale(1 1.04)" font-size="26" text-anchor="middle" fill="#231815">36</text>
<rect x="1868.78" y="1394" width="5" height="11" fill="#000"/>
<text transform="translate(1871.28 1434) scale(1 1.04)" font-size="26" text-anchor="middle" fill="#231815">48</text>
<rect x="1966.2" y="1394" width="5" height="11" fill="#000"/>
<text transform="translate(1968.7 1434) scale(1 1.04)" font-size="26" text-anchor="middle" fill="#231815">60</text>
<text transform="translate(1729 1476) scale(1 1.04)" font-size="30.5" text-anchor="middle" fill="#000">Time (Months)</text>
<text transform="translate(1377.9 1134.7) rotate(-90) scale(1 1.04)" font-size="30.3" text-anchor="middle" fill="#000">PFS probability</text>
<text transform="translate(1724.6 867.4) scale(1 1.04)" font-size="43.5" text-anchor="middle" fill="#000">sgBRCA1/2</text>
<text transform="translate(1379.35 867.4) scale(0.97 1.04)" font-size="43.5" font-weight="bold" fill="#231815">F</text>
<text transform="translate(1482.1 1368.8) scale(1 1.04)" font-size="28.1"><tspan fill="#A52A2A" font-weight="bold">VUS+/Tier&#160;III+</tspan><tspan fill="#231815" font-size="30.2">&#160;vs.&#160;</tspan><tspan fill="#1F4E79" font-weight="bold" font-size="30.2">WT</tspan><tspan fill="#231815" font-size="30.2">&#160;0.41</tspan></text>
<text transform="translate(1455.2 1516) scale(1 1.04)" font-size="26" fill="#000">Number at risk</text>
<text transform="translate(1481.6 1561.8) scale(1 1.04)" font-size="22" text-anchor="middle" fill="#000">76</text>
<text transform="translate(1481.6 1602.5) scale(1 1.04)" font-size="22" text-anchor="middle" fill="#000">124</text>
<text transform="translate(1579.02 1561.8) scale(1 1.04)" font-size="22" text-anchor="middle" fill="#000">68</text>
<text transform="translate(1579.02 1602.5) scale(1 1.04)" font-size="22" text-anchor="middle" fill="#000">96</text>
<text transform="translate(1676.44 1561.8) scale(1 1.04)" font-size="22" text-anchor="middle" fill="#000">41</text>
<text transform="translate(1676.44 1602.5) scale(1 1.04)" font-size="22" text-anchor="middle" fill="#000">57</text>
<text transform="translate(1773.86 1561.8) scale(1 1.04)" font-size="22" text-anchor="middle" fill="#000">21</text>
<text transform="translate(1773.86 1602.5) scale(1 1.04)" font-size="22" text-anchor="middle" fill="#000">33</text>
<text transform="translate(1871.28 1561.8) scale(1 1.04)" font-size="22" text-anchor="middle" fill="#000">9</text>
<text transform="translate(1871.28 1602.5) scale(1 1.04)" font-size="22" text-anchor="middle" fill="#000">11</text>
<text transform="translate(1968.7 1561.8) scale(1 1.04)" font-size="22" text-anchor="middle" fill="#000">1</text>
<text transform="translate(1968.7 1602.5) scale(1 1.04)" font-size="22" text-anchor="middle" fill="#000">0</text>
<rect x="1382.4" y="1548.4" width="48.9" height="16.6" fill="#4A597B"/>
<rect x="1383.7" y="1588.2" width="48.7" height="16.4" fill="#AE5547"/>
<path d="M1481.9 909H1518.75V915H1523.1V921.85H1556.9V927.85H1565.6V934.1H1566V940.35H1572.5V946.2H1580V952.6H1580.5V959.1H1585.6V965H1604.4V971.4H1605V977.85H1611.25V983.7H1615.6V990.35H1621.25V996.2H1622.5V1002.5H1626.25V1009.35H1627.5V1015.6H1628.75V1023.1H1630.6V1029.35H1632.5V1035.6H1634.4V1046.2H1645V1052.5H1648.75V1058.7H1655V1065.6H1655.6V1071.2H1657.5V1077.5H1661.25V1083.4H1670.6V1095.6H1671.9V1108.1H1674.4V1114.35H1683.75V1120.6H1687.5V1126.6H1688V1133.1H1692.5V1139.35H1693V1145.6H1700V1155.6H1701.9V1170.6H1705V1176.2H1710V1183.1H1712.5V1189.35H1719.4V1195H1723.75V1201.85H1740V1206.85H1742.5V1208.7H1753.1V1215H1755V1220.6H1760V1226.2H1769.4V1232.5H1770.6V1239.2H1807.5V1245.6H1815V1251.2H1823.75V1258.1H1824.8V1271H1882.4V1285H1968.4" fill="none" stroke="#B0513F" stroke-width="3.4" stroke-opacity="1.0"/>
<path d="M1528.1 913.85v16M1557.1 919.85v16M1783.1 1231.2v16M1785 1231.2v16M1800.6 1231.2v16M1812.5 1237.6v16M1821.9 1243.2v16M1854.4 1263v16M1856.4 1263v16M1863.2 1263v16M1873.6 1263v16M1877.6 1263v16M1898.4 1277v16M1905.6 1277v16M1930.4 1277v16M1932.4 1277v16M1936.4 1277v16M1968.4 1277v16" fill="none" stroke="#A0262A" stroke-width="1.5" stroke-opacity="0.8"/>
<path d="M1481.9 909H1493.1V913.1H1505V916.85H1518.75V920H1520.6V923.1H1523.1V925.6H1525.6V928.1H1535.6V931.85H1541.25V933.1H1543.1V935.6H1546.9V939.35H1548.75V943.1H1553.1V949.35H1555V953.7H1556.9V959.35H1558.1V970.6H1558.75V979.35H1561.25V985.6H1562.5V995.6H1570.6V1002.5H1576.25V1009.35H1580V1016.2H1585V1023.7H1590V1030H1591.9V1036.2H1594.4V1043.1H1597.5V1049.35H1598.75V1055.6H1605V1059.35H1607.5V1065.6H1610V1071.85H1611.25V1078.1H1616.25V1081.85H1620V1087.1H1626.9V1096.2H1628.1V1103.7H1633.75V1110.6H1637.5V1115H1643.75V1120.6H1645V1126.2H1649.4V1130H1652.5V1134.35H1657.5V1137.5H1662.5V1145H1671.9V1151.85H1675V1158.7H1678.75V1163.1H1683.75V1166.85H1687.5V1171.85H1689.4V1175H1703.1V1176.85H1704.4V1183.1H1705.6V1193.1H1711.25V1197.5H1723.1V1204.35H1738.75V1206.85H1741.25V1209.35H1744.4V1212.5H1756.9V1216.85H1758.75V1220H1762.5V1223.1H1765V1226.2H1773.1V1236.85H1798.75V1243.1H1807.5V1246.85H1808.1V1250.6H1822.5V1253.7H1823.6V1256.2H1836.8V1262.6H1837.2V1270.2H1892V1280.2H1892.8V1289.8H1966.4" fill="none" stroke="#41547E" stroke-width="3.4" stroke-opacity="0.93"/>
<path d="M1540 923.85v16M1728.1 1196.35v16M1748.1 1204.5v16M1751.25 1204.5v16M1766.9 1218.2v16M1790 1228.85v16M1797.5 1228.85v16M1800 1235.1v16M1803.75 1235.1v16M1809.4 1242.6v16M1818.1 1242.6v16M1828 1248.2v16M1833.2 1248.2v16M1846 1262.2v16M1858.8 1262.2v16M1870.4 1262.2v16M1905.2 1281.8v16M1919.6 1281.8v16M1932.8 1281.8v16M1936.4 1281.8v16M1940.4 1281.8v16M1957.6 1281.8v16M1966.4 1281.8v16" fill="none" stroke="#24436E" stroke-width="1.5" stroke-opacity="0.8"/>
</g>
</svg></body></html>
